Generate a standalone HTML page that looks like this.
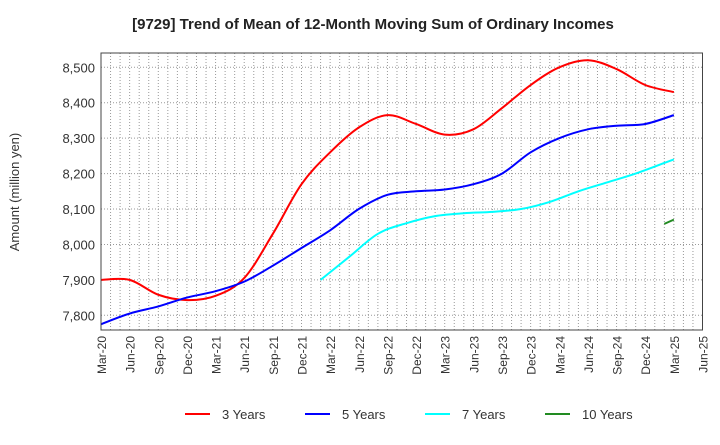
<!DOCTYPE html>
<html><head><meta charset="utf-8"><style>
body{margin:0;background:#fff;font-family:"Liberation Sans",sans-serif}
svg text{font-family:"Liberation Sans",sans-serif;fill:#333}
</style></head><body>
<svg id="c" width="720" height="440" xmlns="http://www.w3.org/2000/svg">
<text x="373" y="29" text-anchor="middle" font-size="15" font-weight="bold" style="fill:#222">[9729]  Trend of Mean of 12-Month Moving Sum of Ordinary Incomes</text>
<text transform="translate(19,192) rotate(-90)" text-anchor="middle" font-size="13">Amount (million yen)</text>
<g id="grid"></g><g id="series"></g><g id="axes"></g><g id="legend"></g>
</svg>
<script>
const xTicks=["Mar-20","Jun-20","Sep-20","Dec-20","Mar-21","Jun-21","Sep-21","Dec-21","Mar-22","Jun-22","Sep-22","Dec-22","Mar-23","Jun-23","Sep-23","Dec-23","Mar-24","Jun-24","Sep-24","Dec-24","Mar-25","Jun-25"];
const yTicks=[7800,7900,8000,8100,8200,8300,8400,8500];
const months3=[0,3,6,9,12,15,18,21,24,27,30,33,36,39,42,45,48,51,54,57,60];
const vals3=[7900,7900,7858,7843,7855,7905,8030,8170,8260,8330,8365,8340,8310,8325,8385,8450,8500,8520,8495,8450,8430];
const months5=[0,3,6,9,12,15,18,21,24,27,30,33,36,39,42,45,48,51,54,57,60];
const vals5=[7775,7805,7825,7850,7868,7895,7940,7990,8040,8100,8140,8150,8155,8170,8200,8260,8300,8325,8335,8340,8365];
const months7=[23,26,29,32,35,38,41,44,47,50,53,56,59,60];
const vals7=[7900,7965,8030,8060,8080,8088,8092,8100,8120,8150,8175,8200,8230,8240];
const months10=[59,60];
const vals10=[8058,8070];
const L=101,R=702.5,T=53,B=330;
const X=m=>L+m*(R-L)/63;
const Y=v=>315.3-(v-7800)*35.43/100;
const NS="http://www.w3.org/2000/svg";
function mk(p,t,a){const e=document.createElementNS(NS,t);for(const k in a)e.setAttribute(k,a[k]);p.appendChild(e);return e;}
const grid=document.getElementById('grid'),axes=document.getElementById('axes'),ser=document.getElementById('series'),leg=document.getElementById('legend');
for(let m=1;m<63;m++){const g=mk(grid,'line',{x1:X(m),x2:X(m),y1:T,y2:B,stroke:'#999','stroke-dasharray':'1,2','stroke-width':1});

}
yTicks.forEach(v=>{const g=mk(grid,'line',{x1:L,x2:R,y1:Y(v),y2:Y(v),stroke:'#999','stroke-dasharray':'1,2','stroke-width':1});


const t=mk(axes,'text',{x:L-6,y:Y(v)+5,'text-anchor':'end','font-size':13});t.textContent=v.toLocaleString('en-US');

});
xTicks.forEach((s,i)=>{const x=X(i*3);const t=mk(axes,'text',{transform:`translate(${x+5},${B+6}) rotate(-90)`,'text-anchor':'end','font-size':12});t.textContent=s;

});
const fr=mk(axes,'rect',{x:L,y:T,width:R-L,height:B-T,fill:'none',stroke:'#444','stroke-width':1});


function path(ms,vs){const p=ms.map((m,i)=>[X(m),Y(vs[i])]);let d=`M${p[0][0]},${p[0][1]}`;
for(let i=0;i<p.length-1;i++){const p0=p[i-1]||p[i],p1=p[i],p2=p[i+1],p3=p[i+2]||p2;
d+=`C${p1[0]+(p2[0]-p0[0])/6},${p1[1]+(p2[1]-p0[1])/6} ${p2[0]-(p3[0]-p1[0])/6},${p2[1]-(p3[1]-p1[1])/6} ${p2[0]},${p2[1]}`;}return d;}
const S=[["3 Years",months3,vals3,"#f00"],["5 Years",months5,vals5,"#00f"],["7 Years",months7,vals7,"#0ff"],["10 Years",months10,vals10,"#228b22"]];
const lx=[185,305,425,545];
S.forEach((s,i)=>{const p=mk(ser,'path',{d:path(s[1],s[2]),fill:'none',stroke:s[3],'stroke-width':2});


const g=mk(leg,'g',{});


mk(g,'line',{x1:lx[i],x2:lx[i]+25,y1:414,y2:414,stroke:s[3],'stroke-width':2});
const t=mk(g,'text',{x:lx[i]+37,y:419,'font-size':13});t.textContent=s[0];});
</script>
</body></html>
